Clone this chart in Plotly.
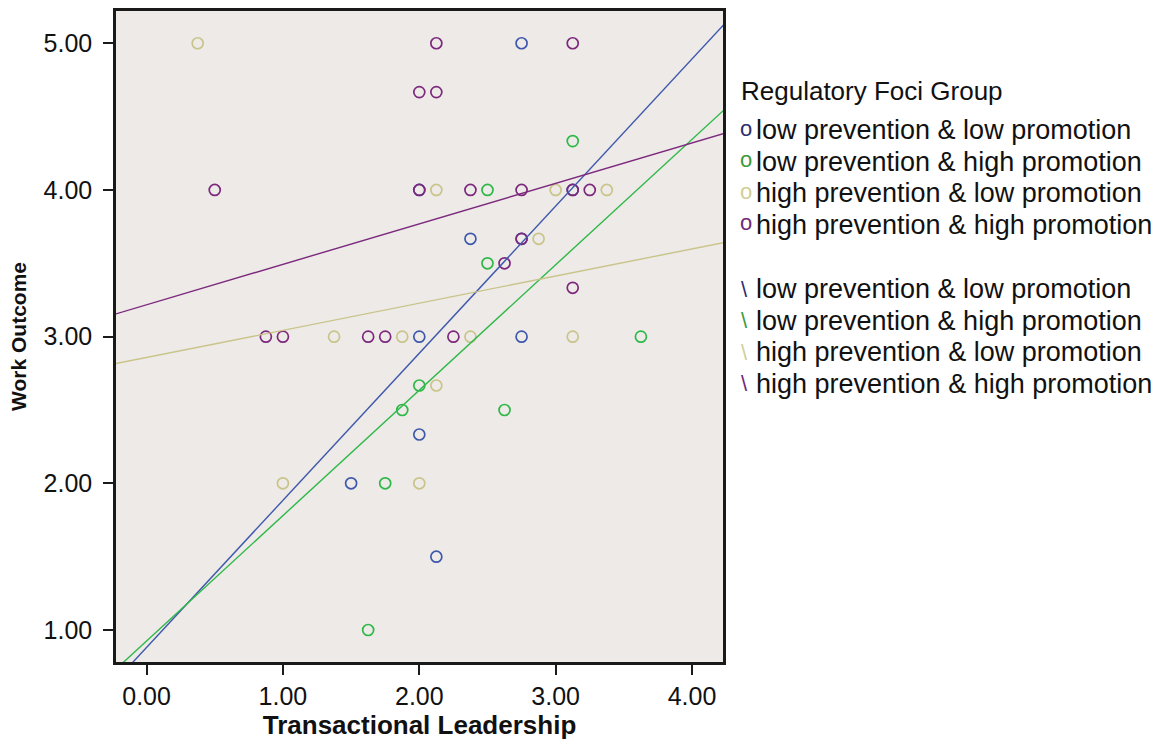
import plotly.graph_objects as go

# ---- data ----
groups = ["low prevention & low promotion", "low prevention & high promotion",
          "high prevention & low promotion", "high prevention & high promotion"]
colors = ["#3E58AC", "#2EB848", "#C9C48A", "#7C287D"]
legend_colors = ["#2E2E6E", "#3C9A3C", "#D3CE97", "#6E2A78"]

ll_x = [2.75, 2.00, 3.125, 2.375, 2.75, 2.00, 2.75, 2.00, 1.50, 2.125]
ll_y = [5.00, 4.00, 4.00, 3.667, 3.667, 3.00, 3.00, 2.333, 2.00, 1.50]

lh_x = [3.125, 2.50, 2.50, 3.625, 2.00, 1.875, 2.625, 1.75, 1.625]
lh_y = [4.333, 4.00, 3.50, 3.00, 2.667, 2.50, 2.50, 2.00, 1.00]

hl_x = [0.375, 2.125, 3.00, 3.375, 2.875, 1.375, 1.875, 2.375, 3.125, 2.125, 1.00, 2.00]
hl_y = [5.00, 4.00, 4.00, 4.00, 3.667, 3.00, 3.00, 3.00, 3.00, 2.667, 2.00, 2.00]

hh_x = [2.125, 3.125, 2.00, 2.125, 0.50, 2.00, 2.375, 2.75, 3.125, 3.25, 2.625, 3.125,
        0.875, 1.00, 1.625, 1.75, 2.25, 2.75]
hh_y = [5.00, 5.00, 4.667, 4.667, 4.00, 4.00, 4.00, 4.00, 4.00, 4.00, 3.50, 3.333,
        3.00, 3.00, 3.00, 3.00, 3.00, 3.667]

# fit lines (intercept, slope)
fit_intercepts = [0.881, 0.925, 2.858, 3.217]
fit_slopes = [1.003, 0.855, 0.185, 0.276]

x_ticks = [0, 1, 2, 3, 4]
y_ticks = [1, 2, 3, 4, 5]
x_range = [-0.224, 4.227]
y_range = [0.782, 5.22]

xs_all = [ll_x, lh_x, hl_x, hh_x]
ys_all = [ll_y, lh_y, hl_y, hh_y]

fig = go.Figure()

for i in range(4):
    fig.add_trace(go.Scatter(
        x=xs_all[i], y=ys_all[i], mode="markers", name=groups[i],
        marker=dict(symbol="circle-open", size=11, color=colors[i],
                    line=dict(width=1.7, color=colors[i])),
        showlegend=False, cliponaxis=True))

for i in range(4):
    lx = [x_range[0] - 0.1, x_range[1] + 0.1]
    ly = [fit_intercepts[i] + fit_slopes[i] * v for v in lx]
    fig.add_trace(go.Scatter(
        x=lx, y=ly, mode="lines", name=groups[i],
        line=dict(color=colors[i], width=1.4), showlegend=False))

font_main = "Liberation Sans, Arial, sans-serif"

fig.update_layout(
    width=1171, height=740,
    margin=dict(l=116, r=448, t=11, b=78),
    paper_bgcolor="#FFFFFF", plot_bgcolor="#EDEAE7",
    font=dict(family=font_main, color="#111111", size=22),
)

fig.update_xaxes(
    range=x_range, tickvals=x_ticks, tickformat=".2f",
    showgrid=False, zeroline=False, automargin=False,
    showline=True, mirror=True, linecolor="#1A1A1A", linewidth=2.5,
    ticks="outside", ticklen=10, tickwidth=2, tickcolor="#1A1A1A",
    ticklabelstandoff=0,
    tickfont=dict(size=25, family=font_main, color="#111111"),
    title=dict(text="<b>Transactional Leadership</b>",
               font=dict(size=26, family=font_main, color="#111111"),
               standoff=6),
)
fig.update_yaxes(
    range=y_range, tickvals=y_ticks, tickformat=".2f",
    showgrid=False, zeroline=False, automargin=False,
    showline=True, mirror=True, linecolor="#1A1A1A", linewidth=2.5,
    ticks="outside", ticklen=10, tickwidth=2, tickcolor="#1A1A1A",
    ticklabelstandoff=6,
    tickfont=dict(size=25, family=font_main, color="#111111"),
    title=dict(text="<b>Work Outcome</b>",
               font=dict(size=21, family=font_main, color="#111111"),
               standoff=12),
)

# ---- legend built as text (SPSS style) ----
plot_w = 1171 - 116 - 448
plot_h = 740 - 11 - 78

def px_to_paper_x(px):
    return (px - 116) / plot_w

def px_to_paper_y(py):
    return (740 - 78 - py) / plot_h

fig.add_annotation(text="Regulatory Foci Group", xref="paper", yref="paper",
                   x=px_to_paper_x(739), y=px_to_paper_y(91), xanchor="left", yanchor="middle",
                   showarrow=False, font=dict(size=26, family=font_main, color="#111111"))

marker_rows = [130, 161.5, 193, 224.5]
line_rows = [289, 320.5, 352, 383.5]
for i in range(4):
    fig.add_annotation(text="o", xref="paper", yref="paper",
                       x=px_to_paper_x(738), y=px_to_paper_y(marker_rows[i] - 2), xanchor="left", yanchor="middle",
                       showarrow=False, font=dict(size=22, family=font_main, color=legend_colors[i]))
    fig.add_annotation(text=groups[i], xref="paper", yref="paper",
                       x=px_to_paper_x(754), y=px_to_paper_y(marker_rows[i]), xanchor="left", yanchor="middle",
                       showarrow=False, font=dict(size=27, family=font_main, color="#111111"))
    fig.add_annotation(text="\\", xref="paper", yref="paper",
                       x=px_to_paper_x(739), y=px_to_paper_y(line_rows[i]), xanchor="left", yanchor="middle",
                       showarrow=False, font=dict(size=22, family=font_main, color=legend_colors[i]))
    fig.add_annotation(text=groups[i], xref="paper", yref="paper",
                       x=px_to_paper_x(754), y=px_to_paper_y(line_rows[i]), xanchor="left", yanchor="middle",
                       showarrow=False, font=dict(size=27, family=font_main, color="#111111"))

fig.write_html("out.html")
